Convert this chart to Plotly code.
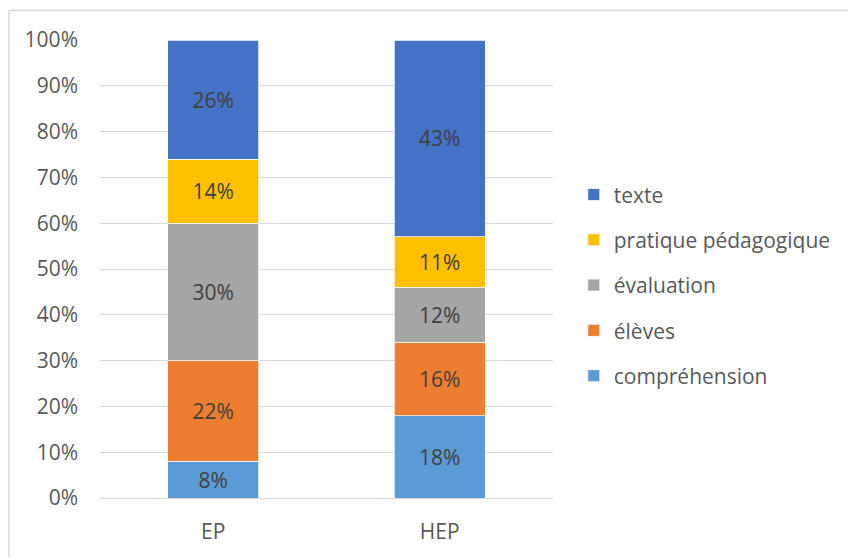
import plotly.graph_objects as go

categories = ["EP", "HEP"]
series_names = ["compréhension", "élèves", "évaluation", "pratique pédagogique", "texte"]
comprehension = [8, 18]
eleves = [22, 16]
evaluation = [30, 12]
pratique = [14, 11]
texte = [26, 43]
values = [comprehension, eleves, evaluation, pratique, texte]
colors = ["#5B9BD5", "#ED7D31", "#A5A5A5", "#FFC000", "#4472C4"]
tick_vals = [0, 10, 20, 30, 40, 50, 60, 70, 80, 90, 100]
tick_text = [f"{v}%" for v in tick_vals]

FONT = "Open Sans"
FS = 21

fig = go.Figure()
n = len(series_names)
for i, (name, vals, col) in enumerate(zip(series_names, values, colors)):
    fig.add_trace(go.Bar(
        x=categories, y=vals, name=name, legendgroup=name,
        legendrank=n - i,
        marker=dict(color=col, line=dict(color="white", width=0.75)),
        text=[f"{v}%" for v in vals], textposition="inside",
        insidetextanchor="middle",
        textfont=dict(family=FONT, size=FS, color="#404040"),
        hoverinfo="skip",
    ))

L, R, T, B = 100, 290, 40, 54
W, H = 848, 557
pw, ph = W - L - R, H - T - B

fig.update_layout(
    width=W, height=H,
    margin=dict(l=L, r=R, t=T, b=B),
    barmode="stack", bargap=0.6,
    plot_bgcolor="white", paper_bgcolor="white",
    font=dict(family=FONT, size=FS, color="#595959"),
    showlegend=True,
    legend=dict(
        x=(579 - L) / pw, xanchor="left",
        y=(H - B - 288) / ph, yanchor="middle",
        traceorder="grouped", tracegroupgap=15,
        font=dict(family=FONT, size=FS, color="#595959"),
        itemwidth=30,
    ),
    xaxis=dict(showgrid=False, showline=False, ticks="", ticklabelstandoff=19,
               tickfont=dict(family=FONT, size=FS, color="#595959")),
    yaxis=dict(range=[0, 100], tickvals=tick_vals, ticktext=tick_text,
               showgrid=True, gridcolor="#D9D9D9", gridwidth=1,
               zeroline=True, zerolinecolor="#D9D9D9", zerolinewidth=1,
               showline=False, ticks="", ticklabelstandoff=21,
               tickfont=dict(family=FONT, size=FS, color="#595959")),
    shapes=[dict(type="rect", xref="paper", yref="paper",
                 x0=(8 - L) / pw, x1=(860 - L) / pw,
                 y0=(H - B - 570) / ph, y1=(H - B - 10) / ph,
                 line=dict(color="#D9D9D9", width=1.5), layer="below")],
)

fig.write_html("out.html", config={"displayModeBar": False},
               post_script="document.body.style.margin='0';document.body.style.overflow='hidden';")
